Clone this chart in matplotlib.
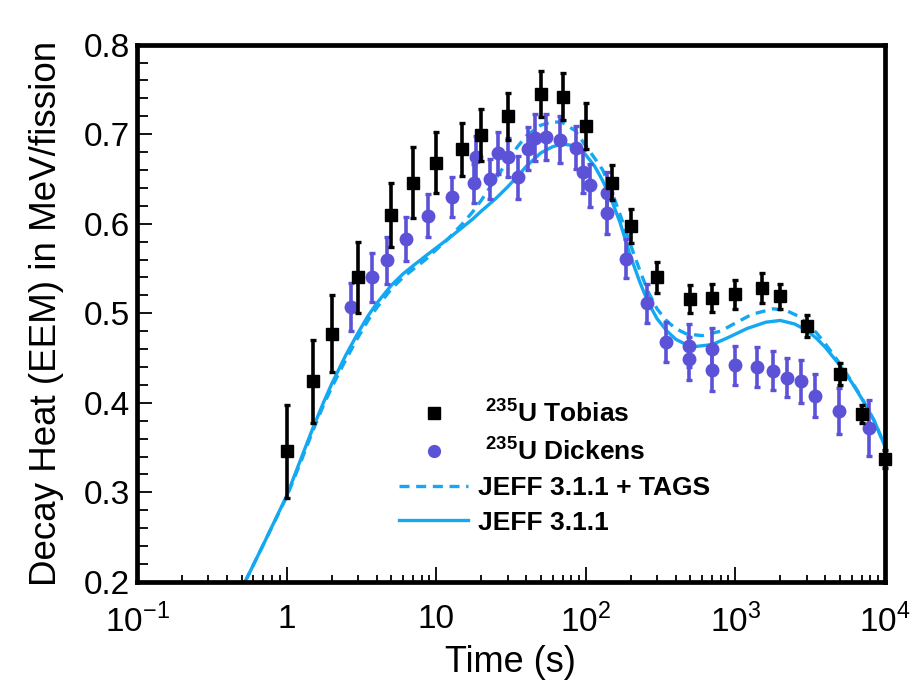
import numpy as np
import matplotlib
matplotlib.use("Agg")
import matplotlib.pyplot as plt
from matplotlib.ticker import FixedLocator, NullFormatter, LogLocator
from matplotlib.lines import Line2D

plt.rcParams['font.family'] = ['Liberation Sans', 'DejaVu Sans']
plt.rcParams['mathtext.fontset'] = 'custom'
plt.rcParams['mathtext.rm'] = 'Liberation Sans'
plt.rcParams['mathtext.bf'] = 'Liberation Sans:bold'

# ---- data ----
tob_t = [1, 1.5, 2, 3, 5, 7, 10, 15, 20, 30, 50, 70, 100, 150, 200, 300, 500, 700,
         1000, 1500, 2000, 3000, 5000, 7000, 10000]
tob_y = [0.346, 0.424, 0.477, 0.540, 0.610, 0.646, 0.668, 0.683, 0.699, 0.720, 0.745,
         0.742, 0.709, 0.646, 0.598, 0.540, 0.516, 0.517, 0.521, 0.528, 0.519, 0.486,
         0.432, 0.388, 0.337]
tob_err = [0.052, 0.046, 0.043, 0.040, 0.036, 0.040, 0.034, 0.030, 0.029, 0.026, 0.026,
           0.026, 0.026, 0.020, 0.019, 0.017, 0.016, 0.016, 0.016, 0.017, 0.014, 0.012,
           0.012, 0.010, 0.010]

dic_t = [2.7, 3.7, 4.7, 6.3, 8.8, 12.8, 17.8, 18.4, 22.8, 25.9, 30.2, 35.2, 41.1, 45.6,
         54.6, 67.6, 86.5, 95.8, 107, 139, 139, 187, 256, 345, 494, 494, 697, 697, 998,
         1393, 1800, 2208, 2756, 3434, 4966, 7888]
dic_y = [0.507, 0.540, 0.559, 0.583, 0.609, 0.630, 0.645, 0.674, 0.650, 0.679, 0.674,
         0.652, 0.684, 0.696, 0.697, 0.694, 0.685, 0.658, 0.643, 0.634, 0.612, 0.561,
         0.511, 0.468, 0.464, 0.449, 0.460, 0.437, 0.442, 0.440, 0.436, 0.428, 0.424,
         0.408, 0.391, 0.372]
dic_err = [0.027, 0.027, 0.026, 0.025, 0.024, 0.022, 0.022, 0.024, 0.022, 0.024, 0.022,
           0.024, 0.024, 0.026, 0.026, 0.026, 0.024, 0.024, 0.024, 0.024, 0.024, 0.022,
           0.022, 0.022, 0.024, 0.024, 0.024, 0.024, 0.022, 0.022, 0.022, 0.022, 0.024,
           0.024, 0.026, 0.031]

jeff_t = [0.527, 0.7, 1.0, 1.25, 1.5, 1.75, 2.0, 2.5, 3.0, 3.5, 4.0, 5.0, 6.0, 7.0, 8.5,
          10, 12, 15, 17.5, 20, 25, 30, 35, 40, 50, 60, 70, 85, 100, 115, 130, 150, 170,
          200, 230, 260, 300, 350, 400, 470, 550, 700, 900, 1200, 1600, 2000, 2500, 3000,
          3500, 4000, 5000, 6000, 7000, 8500, 10000]
jeff_y = [0.200, 0.242, 0.296, 0.338, 0.372, 0.399, 0.421, 0.454, 0.478, 0.497, 0.511,
          0.531, 0.544, 0.553, 0.564, 0.573, 0.583, 0.596, 0.605, 0.614, 0.628, 0.641,
          0.653, 0.664, 0.679, 0.686, 0.689, 0.687, 0.677, 0.664, 0.648, 0.625, 0.601,
          0.563, 0.535, 0.513, 0.494, 0.480, 0.471, 0.465, 0.463, 0.465, 0.473, 0.483,
          0.490, 0.492, 0.488, 0.481, 0.472, 0.462, 0.442, 0.423, 0.405, 0.380, 0.352]

tags_t = [0.527, 0.7, 1.0, 1.25, 1.5, 1.75, 2.0, 2.5, 3.0, 3.5, 4.0, 5.0, 6.0, 7.0, 8.5,
          10, 12, 15, 17.5, 20, 25, 30, 35, 40, 50, 60, 70, 85, 100, 115, 130, 150, 170,
          200, 230, 260, 300, 350, 400, 470, 600, 800, 1000, 1300, 1800, 2200, 2700, 3000,
          3500, 4000, 5000, 6000, 7000, 8500, 10000]
tags_y = [0.200, 0.242, 0.295, 0.335, 0.369, 0.396, 0.417, 0.449, 0.473, 0.492, 0.506,
          0.527, 0.540, 0.549, 0.560, 0.571, 0.583, 0.600, 0.613, 0.626, 0.650, 0.670,
          0.686, 0.698, 0.710, 0.714, 0.713, 0.704, 0.687, 0.673, 0.660, 0.635, 0.610,
          0.576, 0.548, 0.525, 0.505, 0.491, 0.483, 0.477, 0.475, 0.480, 0.489, 0.499,
          0.505, 0.503, 0.496, 0.489, 0.478, 0.466, 0.444, 0.424, 0.406, 0.380, 0.352]

xtick_vals = [0.1, 1, 10, 100, 1000, 10000]
xtick_labels = [r'$10^{-1}$', '1', '10', r'$10^{2}$', r'$10^{3}$', r'$10^{4}$']
ytick_vals = [0.2, 0.3, 0.4, 0.5, 0.6, 0.7, 0.8]

# ---- figure ----
fig = plt.figure(figsize=(9.14, 6.87), dpi=100)
ax = fig.add_axes([0.150, 0.153, 0.818, 0.782])

blue = '#14a8f2'
purple = '#5b52d8'

ax.plot(tags_t, tags_y, color=blue, lw=2.4, ls=(0, (3, 2)), zorder=2)
ax.plot(jeff_t, jeff_y, color=blue, lw=2.4, ls='-', zorder=2)

ax.errorbar(dic_t, dic_y, yerr=dic_err, fmt='o', color=purple, ms=9, elinewidth=2.6,
            capsize=2.5, capthick=2.4, zorder=3)
eb = ax.errorbar(tob_t, tob_y, yerr=tob_err, fmt='s', color='black', ms=8.5, elinewidth=2.6,
                 capsize=2.5, capthick=2.4, zorder=4)
for art in [eb[0]] + list(eb[1]) + list(eb[2]):
    art.set_clip_on(False)

ax.set_xscale('log')
ax.set_xlim(0.1, 10000)
ax.set_ylim(0.2, 0.8)

ax.xaxis.set_major_locator(FixedLocator(xtick_vals))
ax.set_xticklabels(xtick_labels)
ax.xaxis.set_minor_locator(LogLocator(base=10, subs=np.arange(2, 10), numticks=20))
ax.xaxis.set_minor_formatter(NullFormatter())
ax.set_yticks(ytick_vals)
ax.set_yticklabels([f'{v:.1f}' for v in ytick_vals])
ax.set_yticks(np.arange(0.2, 0.8001, 0.02), minor=True)

ax.tick_params(axis='both', which='both', direction='in', width=1.3, colors='black')
ax.tick_params(axis='x', which='major', length=11, labelsize=24, pad=16)
ax.tick_params(axis='x', which='minor', length=5)
ax.tick_params(axis='y', which='major', length=11, labelsize=24, pad=5)
ax.tick_params(axis='y', which='minor', length=8)

for s in ax.spines.values():
    s.set_linewidth(3.4)

ax.set_xlabel('Time (s)', fontsize=26, labelpad=4)
ax.set_ylabel('Decay Heat (EEM) in MeV/fission', fontsize=26.5, labelpad=14)

h_tob = Line2D([], [], marker='s', color='black', ls='none', ms=8)
h_dic = Line2D([], [], marker='o', color=purple, ls='none', ms=8.5)
h_tags = Line2D([], [], color=blue, lw=2.4, ls=(0, (3, 2)))
h_jeff = Line2D([], [], color=blue, lw=2.4, ls='-')
leg = ax.legend([h_tob, h_dic, h_tags, h_jeff],
                [r' $\mathbf{^{235}}$U Tobias', r' $\mathbf{^{235}}$U Dickens',
                 'JEFF 3.1.1 + TAGS', 'JEFF 3.1.1'],
                loc='upper left', bbox_to_anchor=(0.326, 0.372), frameon=False,
                prop={'weight': 'bold', 'size': 19}, handlelength=2.6,
                labelspacing=0.4, handletextpad=0.4, borderpad=0.2)

fig.savefig('out.png', dpi=100)
